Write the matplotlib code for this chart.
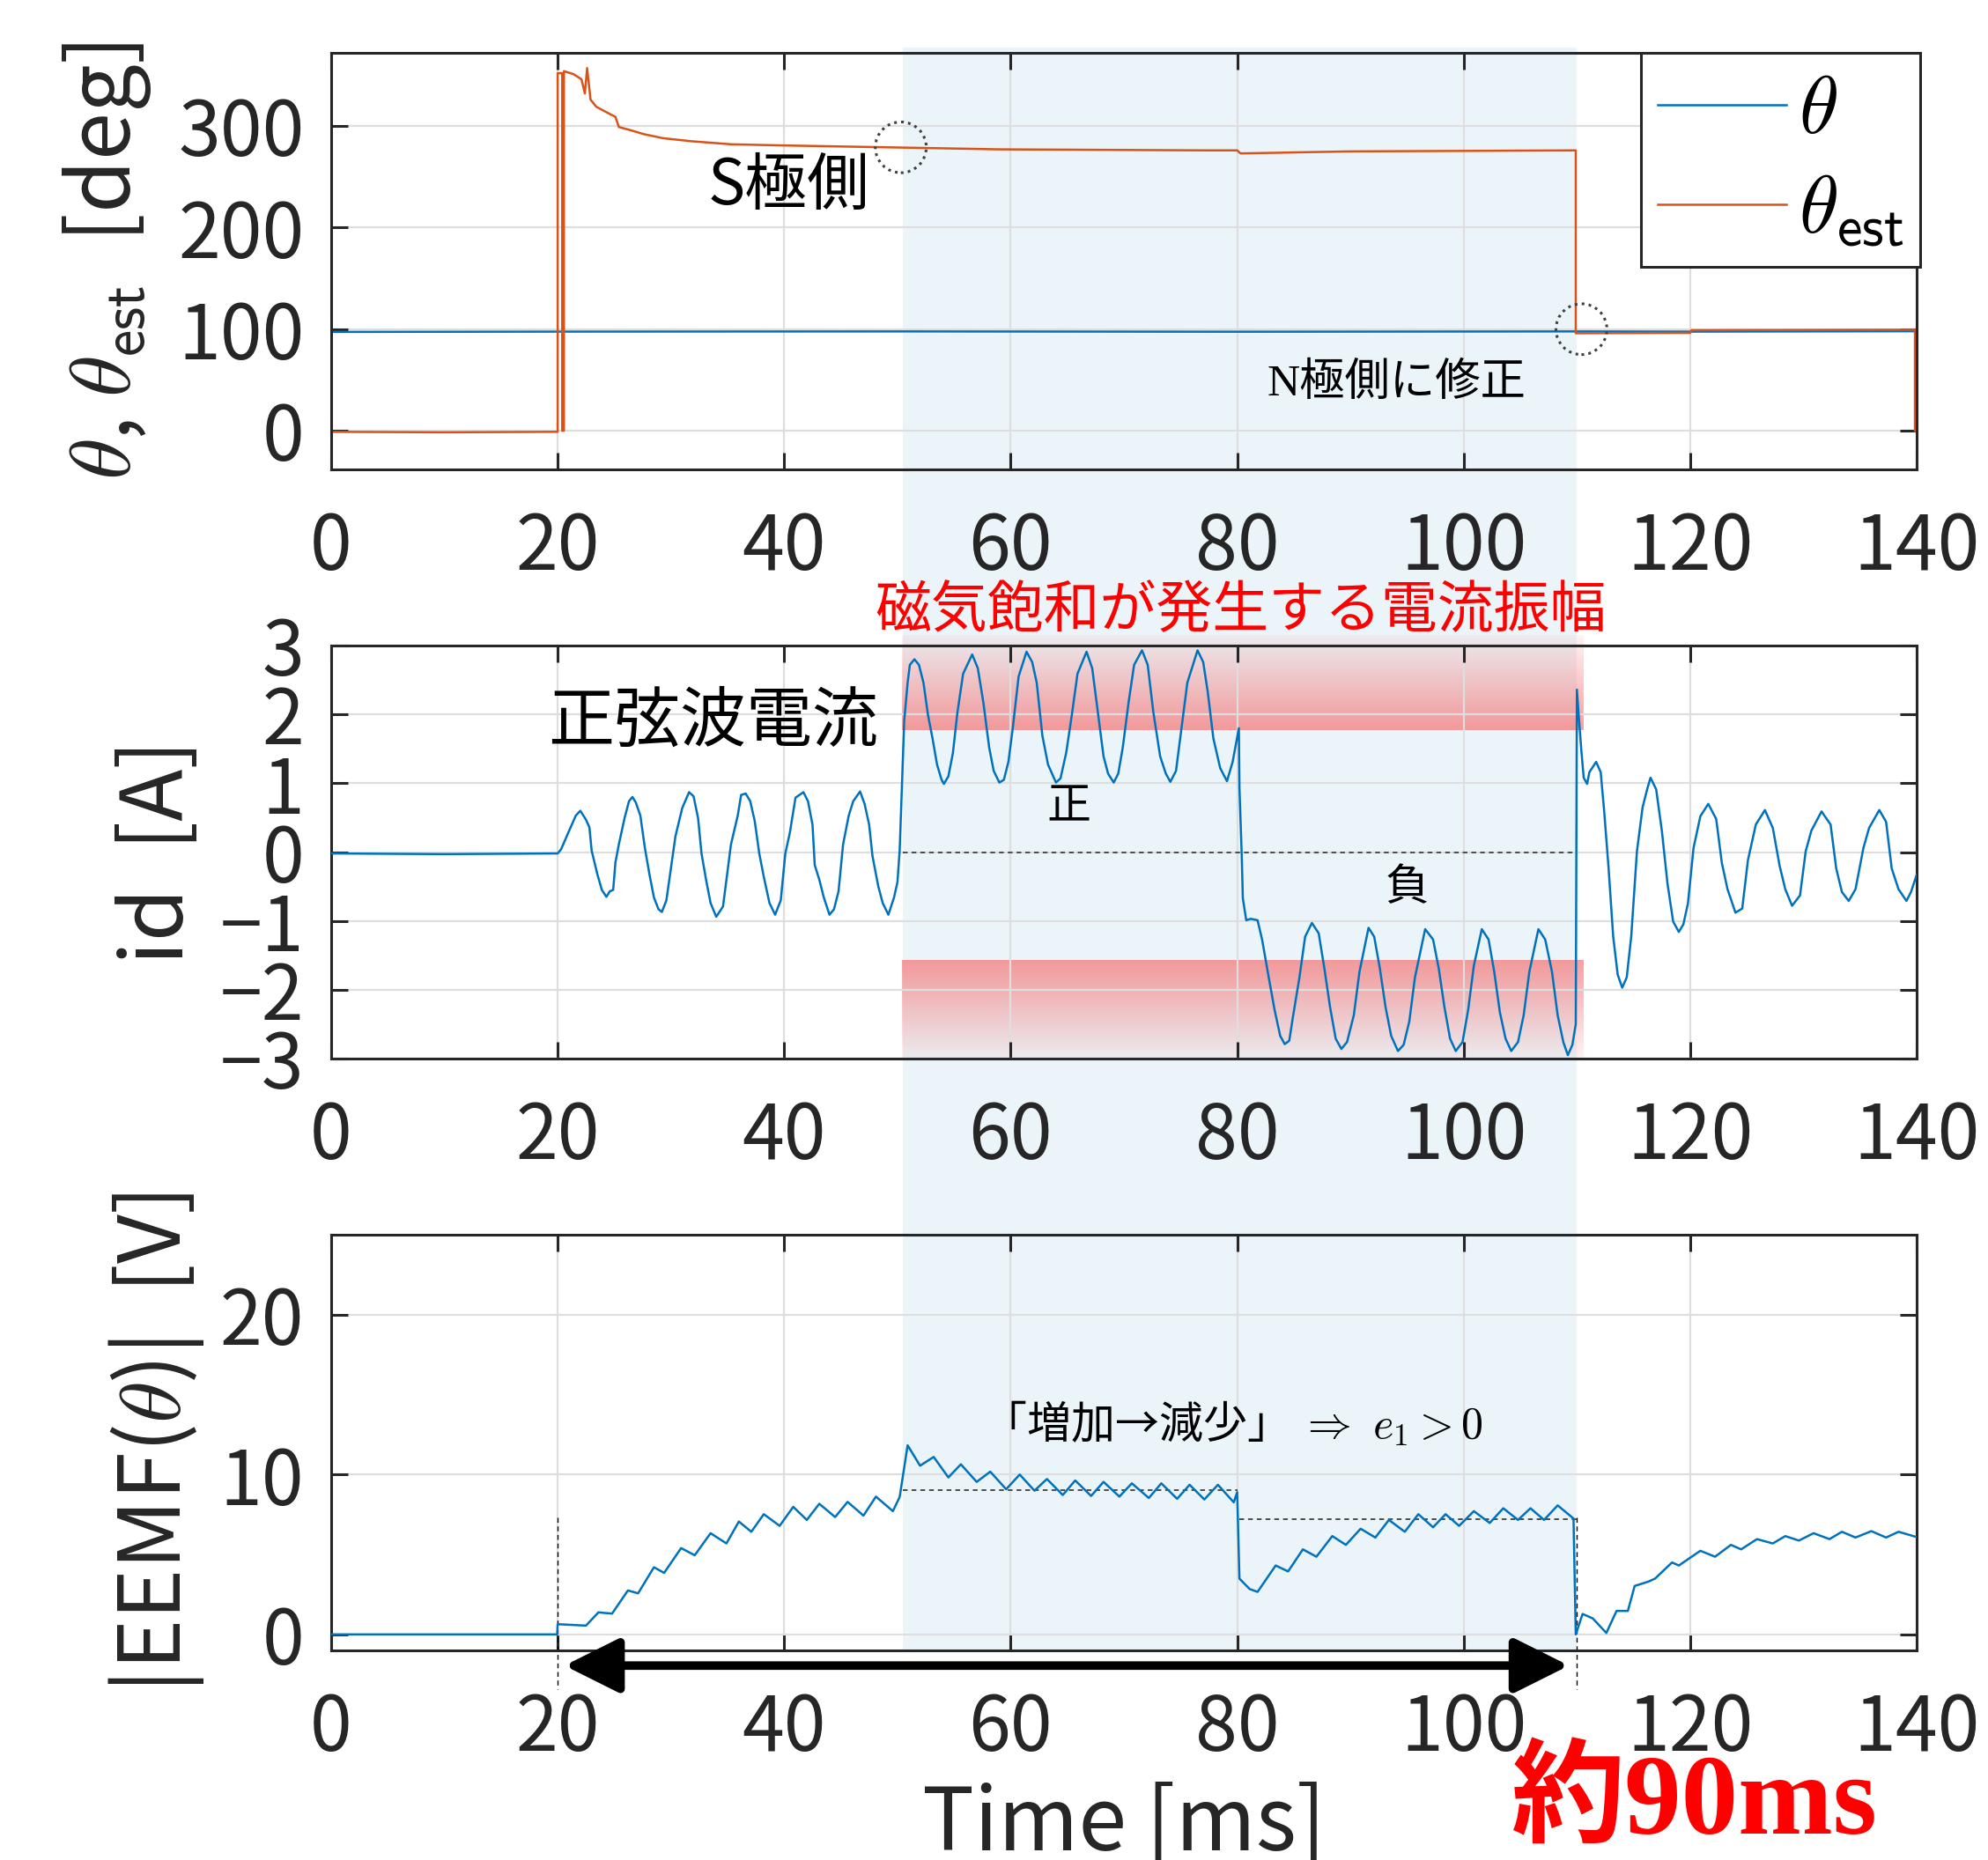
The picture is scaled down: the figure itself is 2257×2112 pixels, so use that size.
import numpy as np
import matplotlib
matplotlib.use('Agg')
import matplotlib.pyplot as plt
from matplotlib.patches import Rectangle, Ellipse
from matplotlib.transforms import blended_transform_factory

plt.rcParams['font.family'] = ['Noto Sans CJK JP', 'DejaVu Sans']
plt.rcParams['mathtext.fontset'] = 'cm'
plt.rcParams['axes.unicode_minus'] = True

# ---------------- data ----------------
xticks = [0, 20, 40, 60, 80, 100, 120, 140]
yticks_theta = [0, 100, 200, 300]
yticks_id = [-3, -2, -1, 0, 1, 2, 3]
yticks_eemf = [0, 10, 20]

theta_t = [0, 20, 50, 80, 110, 120, 140]
theta_v = [97.3, 97.6, 97.8, 97.5, 97.8, 97.6, 98.0]

theta_est_t = [0, 10, 20.0, 20.0, 20.4, 20.4, 20.55, 20.55, 21.4, 22.1, 22.4, 22.6, 22.9, 23.4,
               24.4, 25.1, 25.4, 26.4, 27.6, 29.3, 31.8, 35.3, 39.3, 44.2, 49.2, 59.1, 77.4,
               80.0, 80.3, 85.0, 90.0, 100.0, 109.9, 109.9, 120.0, 120.1, 139.85, 139.85]
theta_est_v = [-1, -1.5, -1, 352, 352, 0, 0, 354, 351, 346, 332, 357, 326, 319,
               313, 309, 299, 296, 292, 288, 285, 282, 281, 280, 279, 277, 276,
               276, 273, 274, 275, 275.5, 276, 96, 96.4, 99, 99.5, 0]

id_t = [0, 10, 20.0, 20.3, 20.8, 21.6, 22.0, 22.5, 22.8, 23.0, 23.5, 23.9, 24.3, 24.6, 24.9,
        25.1, 25.4, 25.9, 26.3, 26.6, 26.9, 27.3, 27.7, 28.1, 28.5, 28.9, 29.2, 29.6, 30.0, 30.4,
        31.0, 31.6, 32.0, 32.4, 32.7, 33.1, 33.5, 34.0, 34.6, 34.9, 35.3, 35.9, 36.2, 36.6, 37.0,
        37.4, 37.8, 38.2, 38.7, 39.2, 39.7, 40.1, 40.5, 41.0, 41.7, 42.1, 42.5, 42.7, 43.1, 43.5,
        44.0, 44.4, 44.8, 45.2, 45.7, 46.1, 46.7, 47.1, 47.5, 47.8, 48.3, 48.7, 49.2, 49.7,
        50.0, 50.2, 50.4, 50.6, 50.9, 51.1, 51.5, 51.9, 52.3, 52.7, 53.1, 53.5, 53.9, 54.1, 54.5,
        54.9, 55.3, 55.8, 56.6, 57.1, 57.6, 58.1, 58.5, 59.0, 59.4, 59.8, 60.2, 60.7, 61.4, 61.9,
        62.3, 62.8, 63.3, 64.0, 64.4, 64.9, 65.4, 65.9, 66.7, 67.2, 67.7, 68.2, 68.6, 69.1, 69.5,
        69.9, 70.4, 70.9, 71.6, 72.1, 72.6, 73.2, 73.7, 74.1, 74.6, 75.1, 75.6, 76.5, 77.0, 77.4,
        77.9, 78.5, 79.1, 79.6, 80.15, 80.2, 80.4, 80.5, 80.8, 81.2, 81.8,
        82.2, 82.7, 83.3, 83.8, 84.2, 84.6, 84.9, 85.5, 86.0, 86.6, 87.2, 87.7, 88.2, 88.7, 89.2,
        89.7, 90.3, 90.8, 91.6, 92.1, 92.6, 93.1, 93.6, 94.2, 94.7, 95.2, 95.7, 96.6, 97.3, 97.8,
        98.3, 98.8, 99.3, 99.9, 100.4, 100.9, 101.6, 102.2, 102.7, 103.2, 103.7, 104.2, 104.8, 105.3, 105.8,
        106.6, 107.2, 107.8, 108.3, 108.8, 109.2, 109.6, 109.9,
        110.0, 110.2, 110.4, 110.6, 110.9, 111.1, 111.7, 112.1, 112.4, 112.8, 113.2, 113.6, 114.0, 114.4, 114.8,
        115.3, 115.8, 116.2, 116.5, 117.0, 117.5, 118.0, 118.5, 119.0, 119.4, 119.8, 120.3, 120.9, 121.6, 122.3,
        122.8, 123.3, 124.0, 124.6, 125.1, 125.8, 126.6, 127.3, 127.9, 128.4, 129.0, 129.7, 130.2, 130.7, 131.6,
        132.4, 132.9, 133.4, 134.0, 134.6, 135.3, 135.8, 136.7, 137.3, 137.8, 138.4, 139.1, 139.5, 140.0]
id_v = [-0.02, -0.03, -0.02, 0.04, 0.23, 0.53, 0.60, 0.47, 0.36, 0.02, -0.32, -0.55, -0.65, -0.57, -0.55,
        -0.15, 0.11, 0.49, 0.74, 0.80, 0.72, 0.53, 0.06, -0.32, -0.66, -0.83, -0.87, -0.70, -0.23, 0.23,
        0.64, 0.87, 0.81, 0.49, -0.02, -0.40, -0.74, -0.94, -0.79, -0.40, 0.11, 0.53, 0.83, 0.85, 0.74,
        0.45, -0.02, -0.36, -0.74, -0.91, -0.70, -0.02, 0.28, 0.79, 0.87, 0.74, 0.40, -0.19, -0.40, -0.66,
        -0.91, -0.83, -0.57, 0.11, 0.53, 0.74, 0.88, 0.70, 0.40, -0.06, -0.49, -0.74, -0.91, -0.66,
        -0.44, 0.03, 0.97, 1.91, 2.46, 2.72, 2.80, 2.72, 2.46, 1.99, 1.65, 1.27, 1.05, 0.99, 1.10,
        1.44, 2.03, 2.59, 2.87, 2.67, 2.16, 1.52, 1.18, 1.01, 1.05, 1.31, 1.82, 2.55, 2.91, 2.76,
        2.46, 1.69, 1.27, 1.01, 1.07, 1.44, 1.99, 2.59, 2.91, 2.67, 2.03, 1.39, 1.14, 1.01, 1.14,
        1.52, 2.16, 2.72, 2.93, 2.72, 2.03, 1.39, 1.14, 1.02, 1.18, 1.82, 2.46, 2.93, 2.76, 2.33,
        1.65, 1.22, 1.03, 1.31, 1.80, 0.93, -0.03, -0.67, -0.99, -0.97, -0.99,
        -1.27, -1.74, -2.29, -2.67, -2.79, -2.74, -2.42, -1.82, -1.23, -1.03, -1.18, -1.69, -2.25, -2.71, -2.86,
        -2.76, -2.37, -1.74, -1.10, -1.23, -1.69, -2.25, -2.67, -2.89, -2.80, -2.46, -1.82, -1.12, -1.27, -1.69,
        -2.25, -2.71, -2.89, -2.76, -2.29, -1.65, -1.12, -1.27, -1.74, -2.33, -2.71, -2.89, -2.76, -2.37, -1.74,
        -1.12, -1.27, -1.74, -2.37, -2.76, -2.95, -2.80, -2.50,
        2.36, 1.89, 1.46, 1.08, 0.99, 1.16, 1.31, 1.16, 0.61, -0.24, -1.22, -1.78, -1.97, -1.82, -1.22,
        0.01, 0.65, 0.91, 1.08, 0.91, 0.31, -0.46, -1.01, -1.16, -1.05, -0.75, 0.06, 0.52, 0.70, 0.48,
        -0.16, -0.54, -0.88, -0.82, -0.12, 0.40, 0.61, 0.35, -0.20, -0.54, -0.78, -0.63, 0.01, 0.31, 0.59,
        0.40, -0.24, -0.58, -0.71, -0.54, 0.06, 0.35, 0.61, 0.44, -0.24, -0.54, -0.71, -0.58, -0.33]

eemf_t = [0, 10, 19.95, 20.0, 22.5, 23.6, 24.8, 26.2, 27.1, 28.5, 29.4, 30.9, 32.1, 33.5, 34.9,
          36.0, 37.1, 38.2, 39.6, 40.8, 42.0, 43.1, 44.5, 45.6, 47.0, 48.1, 49.6, 50.2, 50.9,
          52.0, 53.2, 54.5, 55.6, 57.0, 58.2, 59.6, 60.8, 62.1, 63.2, 64.6, 65.7, 67.1, 68.2,
          69.6, 70.7, 72.2, 73.3, 74.7, 75.8, 77.1, 78.3, 79.7, 80.0, 80.2, 81.1, 81.8, 83.4,
          84.5, 85.8, 87.0, 88.4, 89.6, 90.9, 92.2, 93.4, 94.8, 96.0, 97.3, 98.4, 99.6, 100.9,
          102.3, 103.5, 104.8, 105.9, 107.1, 108.3, 109.7, 109.9, 110.5, 111.4, 112.6, 113.5,
          114.5, 115.1, 116.3, 116.9, 118.4, 119.0, 120.9, 122.2, 123.6, 124.5, 125.9, 127.3,
          128.4, 129.6, 130.9, 132.3, 133.4, 134.6, 136.0, 137.3, 138.4, 140.0]
eemf_v = [0.0, 0.0, 0.0, 0.64, 0.55, 1.38, 1.30, 2.75, 2.57, 4.20, 3.85, 5.40, 4.95, 6.33, 5.69,
          7.06, 6.42, 7.52, 6.79, 7.98, 7.16, 8.17, 7.34, 8.29, 7.43, 8.62, 7.71, 8.60, 11.83,
          10.55, 11.10, 9.82, 10.64, 9.54, 10.18, 9.08, 10.00, 8.99, 9.72, 8.72, 9.63, 8.66, 9.54,
          8.62, 9.45, 8.53, 9.45, 8.48, 9.36, 8.44, 9.36, 8.26, 8.90, 3.49, 2.84, 2.66, 4.31,
          3.94, 5.32, 4.86, 6.15, 5.60, 6.61, 6.06, 7.16, 6.42, 7.52, 6.70, 7.52, 6.79, 7.71,
          6.97, 7.89, 7.16, 7.89, 7.16, 8.07, 7.25, 0.00, 1.28, 1.00, 0.09, 1.47,
          1.47, 3.03, 3.30, 3.49, 4.50, 4.31, 5.23, 4.86, 5.60, 5.32, 5.96, 5.69,
          6.15, 5.87, 6.33, 5.96, 6.42, 6.06, 6.46, 6.06, 6.42, 6.09]

assert len(id_t) == len(id_v) and len(eemf_t) == len(eemf_v) and len(theta_est_t) == len(theta_est_v)

# ---------------- figure ----------------
BLUE = '#0072BD'
ORANGE = '#D95319'
DARK = '#262626'

fig = plt.figure(figsize=(22.57, 21.12), dpi=100)
L, W = 376 / 2257, 1800 / 2257
ax1 = fig.add_axes([L, 1 - 533 / 2112, W, 473 / 2112])
ax2 = fig.add_axes([L, 1 - 1202 / 2112, W, 469 / 2112])
ax3 = fig.add_axes([L, 1 - 1874 / 2112, W, 472 / 2112])


def style(ax, yticks, ylim):
    ax.set_facecolor('none')
    ax.set_xlim(0, 140)
    ax.set_ylim(*ylim)
    ax.set_xticks(xticks)
    ax.set_yticks(yticks)
    ax.grid(True, color='#dedede', lw=1.6)
    ax.tick_params(direction='in', length=14, width=2.2, top=True, right=True,
                   labelsize=62, colors=DARK)
    ax.tick_params(axis='x', pad=33)
    ax.tick_params(axis='y', pad=22)
    for s in ax.spines.values():
        s.set_linewidth(2.2)
        s.set_color(DARK)


# light blue highlighted interval spanning all three panels
band_tr = blended_transform_factory(ax1.transData, fig.transFigure)
y_lo = 1 - 1874 / 2112
y_hi = 1 - 54 / 2112
fig.add_artist(Rectangle((50.5, y_lo), 110.0 - 50.5, y_hi - y_lo, transform=band_tr,
                         facecolor='#ebf5f9', edgecolor='none', zorder=-10))

LABEL_FS = 70

# ---- top panel ----
ax1.plot(theta_t, theta_v, color=BLUE, lw=1.8, label=r'$\theta$')
ax1.plot(theta_est_t, theta_est_v, color=ORANGE, lw=1.8, label=r'$\theta_{\mathsf{est}}$')
style(ax1, yticks_theta, (-38, 372))
ax1.set_ylabel(r'$\theta$, $\theta_{\mathsf{est}}$  [deg]', fontsize=LABEL_FS, color=DARK)
ax1.yaxis.set_label_coords(-0.112, 0.5)
ax1.add_patch(Ellipse((50.3, 279), 4.5, 50, fill=False, ls=(0, (1, 1.6)), lw=2.2,
                      edgecolor='#404040', zorder=4))
ax1.add_patch(Ellipse((110.4, 100), 4.5, 50, fill=False, ls=(0, (1, 1.6)), lw=2.2,
                      edgecolor='#404040', zorder=4))
ax1.text(40.4, 241, 'S極側', fontsize=51, ha='center', va='center', color='k')
ax1.text(94.1, 46, 'N極側に修正', fontsize=37, ha='center', va='center', color='k',
         family=['Liberation Serif', 'Noto Sans CJK JP'])
leg = ax1.legend(loc='upper right', bbox_to_anchor=(1.002, 1.0), fontsize=66,
                 fancybox=False, framealpha=1, edgecolor=DARK, handlelength=1.6,
                 handletextpad=0.15, borderpad=0.2, labelspacing=0.2, borderaxespad=0.0)
leg.get_frame().set_linewidth(2.2)
leg.set_zorder(10)

# ---- middle panel ----
def grad_band(ax, x0, x1, y0, y1, strong_bottom):
    n = 256
    a = np.linspace(0.55, 0.06, n)
    if not strong_bottom:
        a = a[::-1]
    img = np.zeros((n, 1, 4))
    img[..., 0] = 0.98
    img[..., 1] = 0.30
    img[..., 2] = 0.30
    img[..., 3] = a[:, None]
    ax.imshow(img, extent=[x0, x1, y0, y1], origin='lower', aspect='auto',
              interpolation='bilinear', zorder=1, clip_on=False)


grad_band(ax2, 50.4, 110.6, 1.77, 3.15, True)
grad_band(ax2, 50.4, 110.6, -3.0, -1.57, False)
ax2.plot([50.5, 110.0], [0, 0], ls=(0, (3, 2.5)), color='#404040', lw=1.3, zorder=2)
ax2.plot(id_t, id_v, color=BLUE, lw=1.8, zorder=3)
style(ax2, yticks_id, (-3, 3))
ax2.set_ylabel('id  [A]', fontsize=LABEL_FS, color=DARK)
ax2.yaxis.set_label_coords(-0.081, 0.5)
ax2.text(80.3, 3.50, '磁気飽和が発生する電流振幅', fontsize=46, color='#ff0000',
         ha='center', va='center', clip_on=False)
ax2.text(33.7, 1.89, '正弦波電流', fontsize=54, color='k', ha='center', va='center')
ax2.text(65.1, 0.65, '正', fontsize=36, color='k', ha='center', va='center')
ax2.text(95.0, -0.52, '負', fontsize=36, color='k', ha='center', va='center')

# ---- bottom panel ----
ax3.plot(eemf_t, eemf_v, color=BLUE, lw=1.8, zorder=3)
ax3.plot([50.5, 80.0], [9.03, 9.03], ls=(0, (3, 2.5)), color='#404040', lw=1.3, zorder=2)
ax3.plot([80.2, 110.0], [7.23, 7.23], ls=(0, (3, 2.5)), color='#404040', lw=1.3, zorder=2)
ax3.plot([20, 20], [7.3, -3.4], ls=(0, (4, 3)), color='k', lw=1.0, clip_on=False, zorder=2)
ax3.plot([110, 110], [7.3, -3.4], ls=(0, (4, 3)), color='k', lw=1.0, clip_on=False, zorder=2)
style(ax3, yticks_eemf, (-1, 25))
ax3.set_ylabel(r'|EEMF($\theta$)|  [V]', fontsize=LABEL_FS, color=DARK)
ax3.yaxis.set_label_coords(-0.079, 0.5)
ax3.set_xlabel('Time [ms]', fontsize=71, color=DARK)
ax3.xaxis.set_label_coords(0.5, -0.313)
ax3.text(79.6, 13.1, '「増加→減少」 $\\Rightarrow\\ e_1 > 0$', fontsize=36, color='k',
         ha='center', va='center')
ax3.annotate('', xy=(20.6, -1.95), xytext=(109.3, -1.95), annotation_clip=False,
             arrowprops=dict(arrowstyle='<|-|>,head_length=1.9,head_width=0.95',
                             mutation_scale=20, lw=7, color='k', shrinkA=0, shrinkB=0))

fig.text(1924 / 2257, 1 - 2049 / 2112, '約90ms', fontsize=93, fontweight='bold',
         color='#ff0000', ha='center', va='center',
         family=['Liberation Serif', 'Noto Sans CJK JP'])

fig.savefig('out.png', dpi=100)
